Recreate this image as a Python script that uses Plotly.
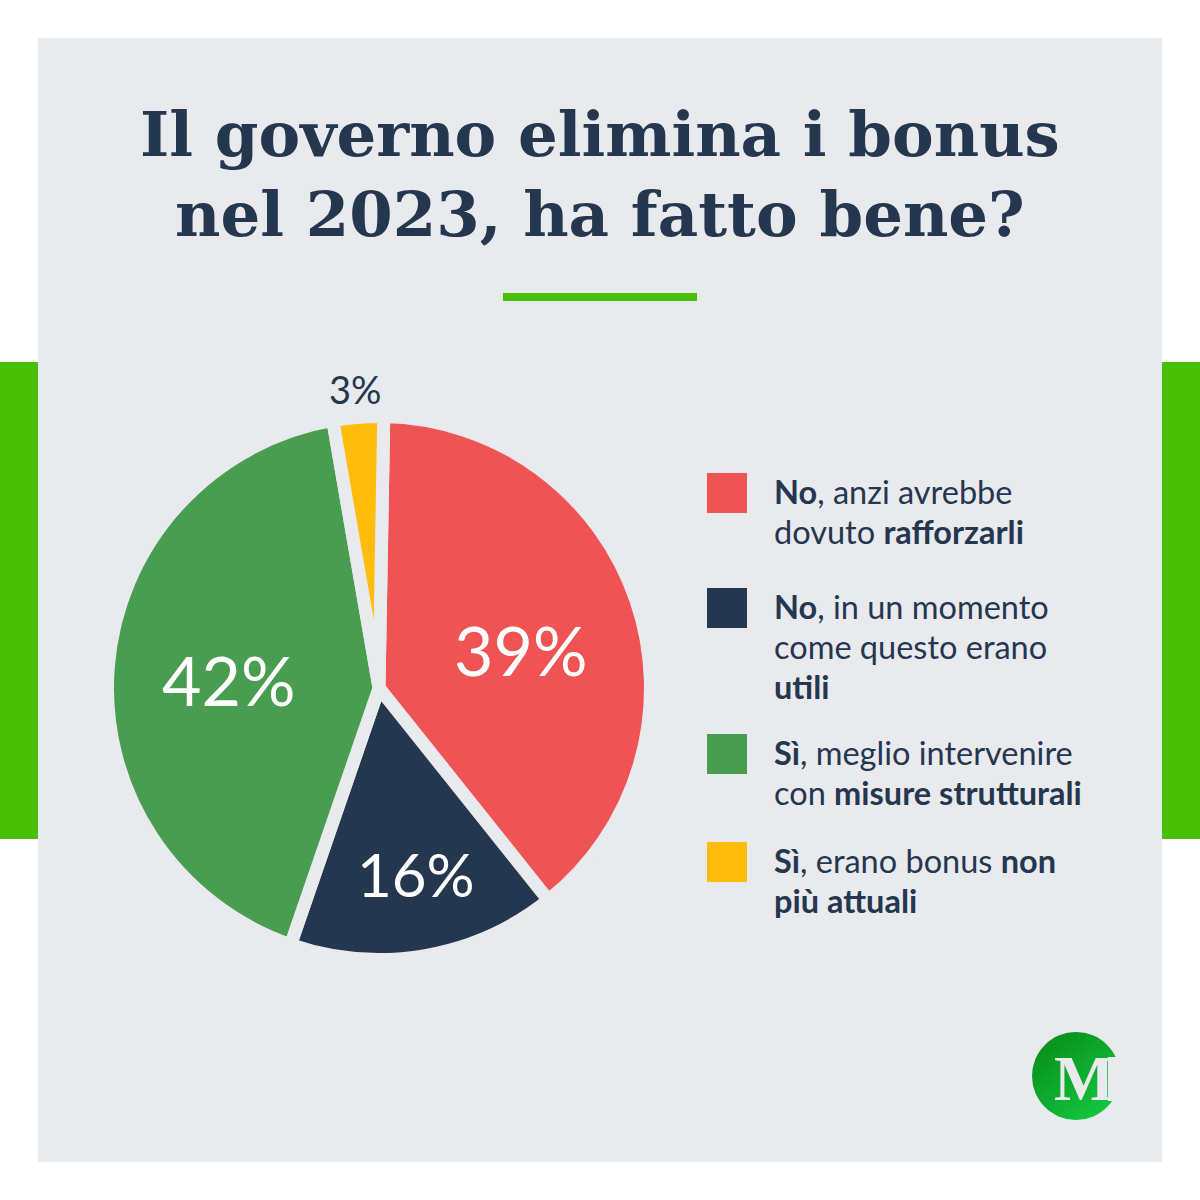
import base64
import plotly.graph_objects as go

labels = ["No, anzi avrebbe dovuto rafforzarli", "No, in un momento come questo erano utili",
          "Sì, meglio intervenire con misure strutturali", "Sì, erano bonus non più attuali"]
values = [39, 16, 42, 3]
colors = ["#EF5353", "#25364F", "#499D50", "#FFBC0A"]
legend_lines = [
    ["<b>No</b>, anzi avrebbe", "dovuto <b>rafforzarli</b>"],
    ["<b>No</b>, in un momento", "come questo erano", "<b>utili</b>"],
    ["<b>Sì</b>, meglio intervenire", "con <b>misure strutturali</b>"],
    ["<b>Sì</b>, erano bonus <b>non</b>", "<b>più attuali</b>"],
]
legend_top = [473, 588, 734, 842]
title_lines = ["Il governo elimina i bonus", "nel 2023, ha fatto bene?"]

W = 1200
BG = "#E8EAEE"
NAVY = "#25364F"
GREEN = "#48BF04"
SANS = "Lato"

# where the percent labels sit, and their size, same order as values
pct_pos = [(520, 650), (416, 875), (228, 680), (355, 390)]
pct_size = [68, 60, 68, 38]
pct_color = ["white", "white", "white", NAVY]


def px_x(x):
    return x / W


def px_y(y):
    return 1 - y / W


def rect(x0, y0, x1, y1, color):
    return dict(type="rect", xref="paper", yref="paper", x0=px_x(x0), x1=px_x(x1),
                y0=px_y(y1), y1=px_y(y0), fillcolor=color, line_width=0, layer="below")


def label(x, y, text, size, color=NAVY, font=SANS, anchor="left"):
    return dict(xref="paper", yref="paper", x=px_x(x), y=px_y(y), text=text, showarrow=False,
                xanchor=anchor, yanchor="middle", font=dict(family=font, size=size, color=color))


# logo circle has a gradient and a cut on the right, shapes cant do that
logo_svg = """<svg xmlns="http://www.w3.org/2000/svg" width="100" height="100" viewBox="0 0 100 100">
<defs><linearGradient id="g" x1="0.1" y1="0.1" x2="0.8" y2="0.95">
<stop offset="0" stop-color="#078F1C"/><stop offset="1" stop-color="#14C63F"/></linearGradient></defs>
<circle cx="47" cy="47" r="44" fill="url(#g)"/>
<rect x="79" y="28" width="21" height="44" fill="#E8EAEE"/></svg>"""
logo_src = "data:image/svg+xml;base64," + base64.b64encode(logo_svg.encode()).decode()

shapes = [
    rect(0, 362, 38, 839, GREEN),
    rect(1162, 362, 1200, 839, GREEN),
    rect(38, 38, 1162, 1162, BG),
    rect(503, 293, 697, 301, GREEN),
]
annotations = [
    label(600, 134, "<b>" + title_lines[0] + "</b>", 62.5, font="DejaVu Serif", anchor="center"),
    label(600, 214, "<b>" + title_lines[1] + "</b>", 62.5, font="DejaVu Serif", anchor="center"),
]

for color, lines, top in zip(colors, legend_lines, legend_top):
    shapes.append(rect(707, top, 747, top + 40, color))
    for i, line in enumerate(lines):
        annotations.append(label(772, top + 18 + i * 40, line, 32.5))

for v, pos, size, color in zip(values, pct_pos, pct_size, pct_color):
    annotations.append(label(pos[0], pos[1] - 1, f"{v}%", size, color=color, anchor="center"))

annotations.append(label(1084, 1078, "<b>M</b>", 64, color=BG, font="Liberation Serif", anchor="center"))

R = 271.5
cx, cy = 379, 688
fig = go.Figure(go.Pie(
    labels=labels,
    values=values,
    sort=False,
    direction="clockwise",
    rotation=1,
    marker=dict(colors=colors, line=dict(color=BG, width=13)),
    textinfo="none",
    automargin=False,
    showlegend=False,
    hoverinfo="label+percent",
    domain=dict(x=[px_x(cx - R), px_x(cx + R)], y=[px_y(cy + R), px_y(cy - R)]),
))
fig.update_layout(
    width=W, height=W,
    margin=dict(l=0, r=0, t=0, b=0),
    paper_bgcolor="white",
    shapes=shapes,
    annotations=annotations,
    images=[dict(source=logo_src, xref="paper", yref="paper", x=px_x(1029), y=px_y(1029),
                 sizex=100 / W, sizey=100 / W, xanchor="left", yanchor="top", layer="above")],
)
# page has a default body margin, it shifts everything by 8px
fig.write_html("out.html", config={"displayModeBar": False},
               post_script="document.body.style.margin='0';")
